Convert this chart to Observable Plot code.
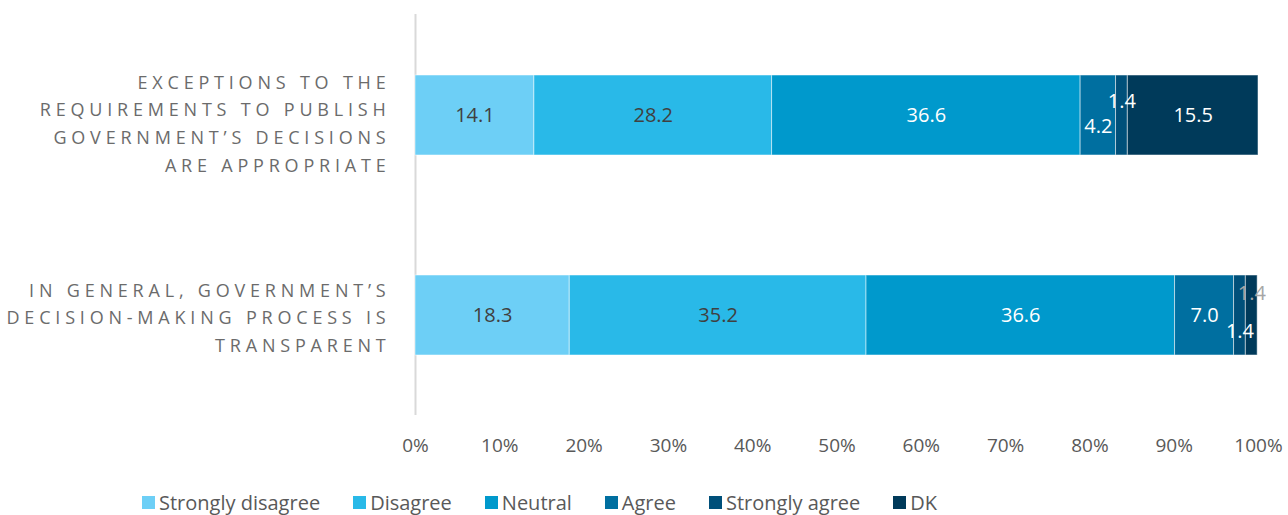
<!DOCTYPE html>
<html><head><meta charset="utf-8">
<script src="https://cdn.jsdelivr.net/npm/d3@7"></script>
<script src="https://cdn.jsdelivr.net/npm/@observablehq/plot@0.6"></script>
<style>
body{margin:0;background:#fff;font-family:"Open Sans",sans-serif;}
#legend{display:flex;gap:33px;padding-left:142px;height:44px;align-items:center;font-size:20px;color:#595959;white-space:nowrap;}
#legend .item{display:flex;align-items:center;}
#legend .sw{display:inline-block;width:13px;height:13px;margin-right:4px;}
</style></head><body><div id="chart"></div><div id="legend"></div>
<script>
const questions = [
  "EXCEPTIONS TO THE\nREQUIREMENTS TO PUBLISH\nGOVERNMENT’S DECISIONS\nARE APPROPRIATE",
  "IN GENERAL, GOVERNMENT’S\nDECISION-MAKING PROCESS IS\nTRANSPARENT"
];
const responses = ["Strongly disagree", "Disagree", "Neutral", "Agree", "Strongly agree", "DK"];
const exceptionsValues = [14.1, 28.2, 36.6, 4.2, 1.4, 15.5];
const transparencyValues = [18.3, 35.2, 36.6, 7.0, 1.4, 1.4];
const xTicks = [0, 10, 20, 30, 40, 50, 60, 70, 80, 90, 100];

const responseColors = ["#6dcff6", "#29b9e8", "#0099cc", "#006fa0", "#00507a", "#003a5a"];
const labelColors = {"Strongly disagree": "#404040", "Disagree": "#404040"};
const labelOffsets = {"0|Agree": 11, "0|Strongly agree": -14, "1|Strongly agree": 16, "1|DK": -22};
const labelGray = {"1|DK": "#a6a6a6"};
const questionOffsets = [6, 0];

const data = [];
[exceptionsValues, transparencyValues].forEach((vals, qi) => {
  let acc = 0;
  vals.forEach((v, ri) => {
    const key = qi + "|" + responses[ri];
    data.push({
      question: questions[qi], response: responses[ri], value: v,
      start: acc, end: acc + v, mid: acc + v / 2, label: v.toFixed(1),
      dy: labelOffsets[key] || 0,
      color: labelGray[key] || labelColors[responses[ri]] || "white"
    });
    acc += v;
  });
});

const dyGroups = Array.from(new Set(data.map(d => d.dy)));
const labelMarks = dyGroups.map(dy => Plot.text(data.filter(d => d.dy === dy), {
  x: "mid", y: "question", text: "label", fill: d => d.color, dy, fontSize: 20
}));

const questionMarks = questions.map((q, i) => Plot.text([q], {
  y: d => d, frameAnchor: "left", dx: -25, dy: questionOffsets[i], textAnchor: "end",
  lineHeight: 1.55, fontSize: 18, fill: "#6b6b6b"
}));

const chart = Plot.plot({
  width: 1288, height: 480,
  marginLeft: 415, marginRight: 30, marginTop: 14, marginBottom: 65,
  x: {domain: [0, 100]},
  y: {domain: questions, paddingInner: 0.602, paddingOuter: 0.301, axis: null},
  color: {domain: responses, range: responseColors},
  style: {fontFamily: "'Open Sans', sans-serif", fontSize: "18px", color: "#595959", background: "white"},
  marks: [
    Plot.ruleX([0], {stroke: "#d9d9d9", strokeWidth: 2}),
    Plot.barX(data, {x1: "start", x2: "end", y: "question", fill: "response", stroke: "white", strokeOpacity: 0.5, strokeWidth: 1}),
    ...labelMarks,
    ...questionMarks,
    Plot.axisX({ticks: xTicks, tickFormat: d => d + "%", tickSize: 0, tickPadding: 23, fontSize: 19, label: null})
  ]
});
d3.select(chart).selectAll("text").filter(function () { return /[A-Z]{4}/.test(this.textContent); })
  .style("letter-spacing", "4.8px");
document.getElementById("chart").appendChild(chart);

const legend = d3.select("#legend");
responses.forEach((r, i) => {
  const it = legend.append("div").attr("class", "item");
  it.append("span").attr("class", "sw").style("background", responseColors[i]);
  it.append("span").text(r);
});
</script></body></html>
